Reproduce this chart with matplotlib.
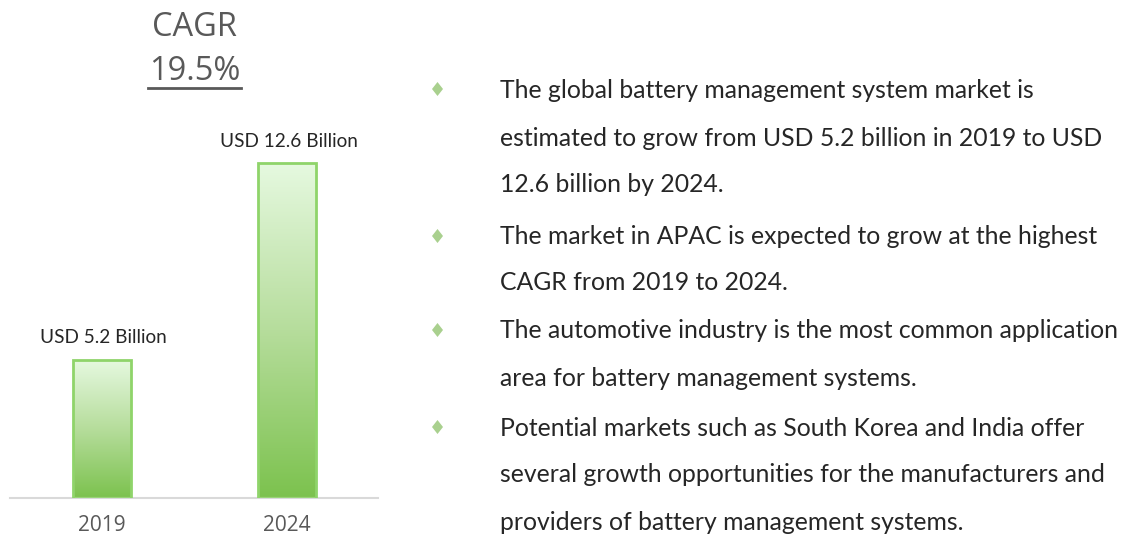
import matplotlib.pyplot as plt
import numpy as np
from matplotlib.colors import LinearSegmentedColormap
from matplotlib.patches import Rectangle, Polygon

years = ["2019", "2024"]
values = [5.2, 12.6]
value_labels = ["USD 5.2 Billion", "USD 12.6 Billion"]
cagr_title = "CAGR"
cagr_value = "19.5%"
bullets = [
    ["The global battery management system market is",
     "estimated to grow from USD 5.2 billion in 2019 to USD",
     "12.6 billion by 2024."],
    ["The market in APAC is expected to grow at the highest",
     "CAGR from 2019 to 2024."],
    ["The automotive industry is the most common application",
     "area for battery management systems."],
    ["Potential markets such as South Korea and India offer",
     "several growth opportunities for the manufacturers and",
     "providers of battery management systems."],
]

W, H = 1126, 538
fig = plt.figure(figsize=(W / 100, H / 100), dpi=100)
fig.patch.set_facecolor("white")

# bar chart on the left, in pixel-based position
ax = fig.add_axes([10 / W, (H - 498) / H, 368 / W, 399 / H])
for s in ["top", "left", "right"]:
    ax.spines[s].set_visible(False)
ax.spines["bottom"].set_color("#d9d9d9")
ax.spines["bottom"].set_linewidth(1.5)
ax.set_yticks([])
ax.set_xticks(range(len(years)))
ax.set_xticklabels(years, fontsize=15, color="#595959", family="Open Sans")
ax.tick_params(axis="x", length=0, pad=12)
ax.patch.set_alpha(0)

cmap = LinearSegmentedColormap.from_list("grn", ["#7cc24e", "#b6dd9c", "#e6f9e0"])
grad = np.linspace(0, 1, 256).reshape(-1, 1)
bw = 0.314
bars = ax.bar(range(len(years)), values, width=bw, color="none",
              edgecolor="#8fd46a", linewidth=2, zorder=3)
for i, (b, v) in enumerate(zip(bars, values)):
    im = ax.imshow(grad, cmap=cmap, aspect="auto", origin="lower",
                   extent=(i - bw / 2, i + bw / 2, 0, v), zorder=2)
    clip = Rectangle((i - bw / 2, 0), bw, v, transform=ax.transData)
    im.set_clip_path(clip)
    ax.text(i + 0.01, v + 0.5, value_labels[i], ha="center", va="bottom",
            fontsize=13.7, color="#262626", family="Lato")
ax.set_xlim(-92 / 185, 1 + 91 / 185)
ax.set_ylim(0, 15)

# CAGR heading
fig.text(195 / W, 1 - 27 / H, cagr_title, ha="center", va="center",
         fontsize=23.5, color="#595959", family="Open Sans")
fig.text(195 / W, 1 - 71 / H, cagr_value, ha="center", va="center",
         fontsize=23.5, color="#595959", family="Open Sans")
fig.add_artist(plt.Line2D([148 / W, 241 / W], [1 - 88 / H, 1 - 88 / H],
                          color="#595959", linewidth=2))

# bullet list on the right
line_y = [[90, 138, 185], [237, 283], [331, 378], [428, 475, 522]]
for lines, ys in zip(bullets, line_y):
    cx, cy = 437.5, ys[0] - 1
    diamond = [((cx - 5.5) / W, 1 - cy / H), (cx / W, 1 - (cy - 7) / H),
               ((cx + 5.5) / W, 1 - cy / H), (cx / W, 1 - (cy + 7) / H)]
    fig.add_artist(Polygon(diamond, closed=True, transform=fig.transFigure,
                           facecolor="#a9d08e", edgecolor="none"))
    for txt, y in zip(lines, ys):
        fig.text(500 / W, 1 - y / H, txt, ha="left", va="center",
                 fontsize=17.8, color="#262626", family="Lato")

fig.savefig("out.png", dpi=100, facecolor="white")
